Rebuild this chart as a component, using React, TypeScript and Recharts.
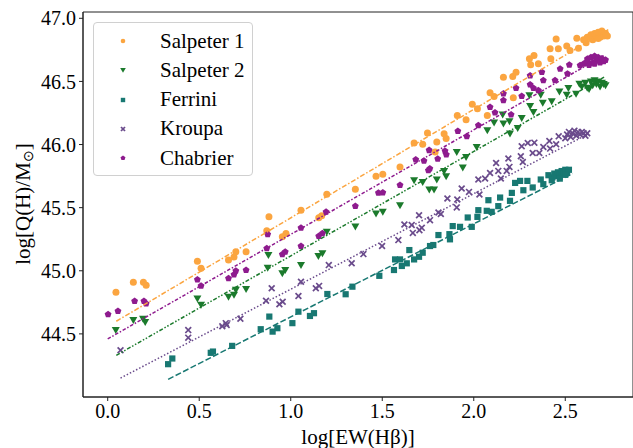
import React from 'react';
import { ScatterChart, Scatter, XAxis, YAxis, ReferenceArea, Label } from 'recharts';

// points, [logEW, logQ]
const SALPETER_1: [number, number][] = [
  [0.045, 44.83], [0.14, 44.91], [0.195, 44.91], [0.21, 44.885], [0.49, 45.075], [0.51, 45.02],
  [0.66, 45.085], [0.69, 45.11], [0.7, 45.15], [0.756, 45.15], [0.869, 45.317], [0.881, 45.427],
  [0.954, 45.27], [0.974, 45.296], [1.056, 45.48], [1.153, 45.42], [1.169, 45.435], [1.197, 45.607],
  [1.353, 45.646], [1.466, 45.749], [1.503, 45.765], [1.597, 45.823], [1.674, 46.012], [1.721, 46.002],
  [1.747, 46.091], [1.789, 45.941], [1.798, 46.02], [1.838, 46.085], [1.849, 46.047], [1.91, 46.231],
  [1.958, 46.197], [1.992, 46.32], [2.02, 46.284], [2.074, 46.23], [2.089, 46.41], [2.111, 46.38],
  [2.162, 46.534], [2.213, 46.54], [2.231, 46.573], [2.216, 46.37], [2.304, 46.679], [2.329, 46.705],
  [2.311, 46.632], [2.353, 46.64], [2.417, 46.759], [2.421, 46.679], [2.45, 46.837], [2.462, 46.759],
  [2.508, 46.78], [2.526, 46.745], [2.563, 46.842], [2.572, 46.763], [2.614, 46.806], [2.62, 46.85],
  [2.64, 46.87], [2.65, 46.83], [2.66, 46.88], [2.67, 46.86], [2.68, 46.89], [2.69, 46.85],
  [2.7, 46.87], [2.71, 46.86], [2.72, 46.88], [2.73, 46.86], [2.68, 46.84], [2.6, 46.83], [2.7, 46.9],
];

const SALPETER_2: [number, number][] = [
  [0.044, 44.53], [0.14, 44.61], [0.193, 44.62], [0.205, 44.595], [0.49, 44.78], [0.51, 44.73],
  [0.66, 44.795], [0.69, 44.81], [0.7, 44.85], [0.756, 44.856], [0.878, 45.124], [0.874, 45.024],
  [0.954, 44.98], [0.97, 45.006], [1.056, 45.045], [1.151, 45.117], [1.173, 45.138], [1.197, 45.309],
  [1.353, 45.35], [1.466, 45.454], [1.503, 45.467], [1.597, 45.52], [1.674, 45.717], [1.721, 45.704],
  [1.757, 45.644], [1.783, 45.644], [1.798, 45.723], [1.838, 45.791], [1.849, 45.749], [1.907, 45.941],
  [1.958, 45.902], [1.94, 45.818], [2.016, 45.98], [2.074, 46.113], [2.111, 46.174], [2.158, 46.237],
  [2.162, 46.166], [2.198, 46.087], [2.195, 46.184], [2.24, 46.131], [2.262, 46.21], [2.304, 46.39],
  [2.308, 46.305], [2.326, 46.257], [2.366, 46.395], [2.377, 46.332], [2.426, 46.342], [2.468, 46.421],
  [2.508, 46.395], [2.517, 46.447], [2.559, 46.403], [2.577, 46.482], [2.59, 46.46], [2.61, 46.49],
  [2.62, 46.45], [2.64, 46.5], [2.65, 46.47], [2.66, 46.51], [2.67, 46.48], [2.68, 46.5],
  [2.69, 46.46], [2.7, 46.49], [2.71, 46.48], [2.72, 46.47], [2.63, 46.44],
];

const FERRINI: [number, number][] = [
  [0.33, 44.26], [0.353, 44.305], [0.563, 44.35], [0.575, 44.36], [0.68, 44.405], [0.836, 44.537],
  [0.883, 44.637], [0.901, 44.518], [0.927, 44.545], [1.009, 44.585], [1.042, 44.676], [1.105, 44.642],
  [1.127, 44.664], [1.2, 44.816], [1.3, 44.814], [1.337, 44.874], [1.484, 44.96], [1.564, 45.006],
  [1.57, 45.09], [1.597, 45.09], [1.607, 45.038], [1.634, 45.059], [1.648, 45.164], [1.674, 45.09],
  [1.701, 45.111], [1.721, 45.143], [1.761, 45.196], [1.779, 45.204], [1.807, 45.283], [1.867, 45.29],
  [1.87, 45.249], [1.885, 45.354], [1.925, 45.348], [1.967, 45.422], [1.989, 45.348], [2.02, 45.427],
  [2.025, 45.48], [2.071, 45.475], [2.08, 45.559], [2.098, 45.467], [2.134, 45.512], [2.144, 45.58],
  [2.198, 45.554], [2.208, 45.617], [2.226, 45.696], [2.253, 45.712], [2.271, 45.638], [2.293, 45.712],
  [2.322, 45.66], [2.366, 45.723], [2.38, 45.686], [2.408, 45.757], [2.426, 45.717], [2.43, 45.74],
  [2.44, 45.77], [2.45, 45.75], [2.46, 45.78], [2.47, 45.76], [2.48, 45.79], [2.49, 45.77],
  [2.5, 45.8], [2.51, 45.78], [2.52, 45.8], [2.47, 45.73], [2.5, 45.76],
];

const KROUPA: [number, number][] = [
  [0.07, 44.37], [0.44, 44.53], [0.44, 44.47], [0.626, 44.56], [0.645, 44.585], [0.65, 44.57],
  [0.725, 44.62], [0.865, 44.763], [0.896, 44.861], [0.938, 44.735], [0.956, 44.755], [1.042, 44.8],
  [1.056, 44.913], [1.137, 44.861], [1.155, 44.88], [1.208, 45.045], [1.333, 45.059], [1.397, 45.132],
  [1.499, 45.196], [1.588, 45.243], [1.621, 45.367], [1.661, 45.362], [1.667, 45.3], [1.701, 45.44],
  [1.703, 45.322], [1.716, 45.34], [1.761, 45.401], [1.807, 45.462], [1.82, 45.45], [1.856, 45.573],
  [1.91, 45.565], [1.907, 45.502], [1.934, 45.652], [1.974, 45.625], [2.031, 45.604], [2.025, 45.723],
  [2.062, 45.731], [2.089, 45.775], [2.122, 45.854], [2.134, 45.791], [2.148, 45.731], [2.18, 45.791],
  [2.195, 45.823], [2.189, 45.889], [2.257, 45.907], [2.268, 45.862], [2.262, 45.986], [2.295, 46.012],
  [2.331, 46.015], [2.322, 45.933], [2.358, 45.933], [2.38, 45.981], [2.413, 46.028], [2.417, 45.968],
  [2.45, 46.002], [2.464, 46.065], [2.5, 46.05], [2.51, 46.08], [2.52, 46.1], [2.53, 46.06],
  [2.54, 46.09], [2.55, 46.11], [2.56, 46.07], [2.57, 46.1], [2.58, 46.08], [2.59, 46.1],
  [2.6, 46.09], [2.61, 46.07], [2.62, 46.09],
];

const CHABRIER: [number, number][] = [
  [0.002, 44.655], [0.056, 44.68], [0.147, 44.76], [0.198, 44.76], [0.21, 44.74], [0.49, 44.93],
  [0.51, 44.88], [0.66, 44.94], [0.69, 44.97], [0.7, 45.0], [0.756, 45.006], [0.874, 45.288],
  [0.869, 45.177], [0.954, 45.13], [0.97, 45.15], [1.056, 45.196], [1.056, 45.34], [1.153, 45.275],
  [1.173, 45.296], [1.193, 45.467], [1.353, 45.512], [1.479, 45.617], [1.503, 45.62], [1.597, 45.678],
  [1.683, 45.88], [1.728, 45.87], [1.756, 45.955], [1.752, 45.796], [1.76, 45.81], [1.803, 45.886],
  [1.843, 45.949], [1.85, 45.92], [1.913, 46.107], [1.962, 46.065], [2.025, 46.152], [2.089, 46.297],
  [2.116, 46.253], [2.162, 46.403], [2.162, 46.35], [2.204, 46.237], [2.231, 46.447], [2.262, 46.384],
  [2.308, 46.474], [2.326, 46.447], [2.353, 46.429], [2.308, 46.547], [2.372, 46.573], [2.38, 46.508],
  [2.444, 46.508], [2.472, 46.6], [2.512, 46.561], [2.522, 46.632], [2.581, 46.627], [2.621, 46.679],
  [2.6, 46.64], [2.62, 46.66], [2.64, 46.69], [2.65, 46.65], [2.66, 46.7], [2.67, 46.67],
  [2.68, 46.69], [2.69, 46.65], [2.7, 46.68], [2.71, 46.66], [2.72, 46.67], [2.63, 46.63], [2.66, 46.64],
];

// fitted lines, end points
const FIT_SALPETER_1: [number, number][] = [[0.047, 44.6], [2.735, 46.91]];
const FIT_SALPETER_2: [number, number][] = [[0.047, 44.33], [2.712, 46.534]];
const FIT_FERRINI: [number, number][] = [[0.33, 44.14], [2.54, 45.77]];
const FIT_KROUPA: [number, number][] = [[0.07, 44.15], [2.62, 46.08]];
const FIT_CHABRIER: [number, number][] = [[0.0, 44.46], [2.717, 46.71]];

const X_TICKS = [0, 0.5, 1, 1.5, 2, 2.5];
const Y_TICKS = [44.5, 45, 45.5, 46, 46.5, 47];
const X_DOMAIN = [-0.135, 2.87];
const Y_DOMAIN = [44.0, 47.05];

const FONT = '"Liberation Serif", "Times New Roman", serif';
const C_SAL1 = '#fba540';
const C_SAL2 = '#1b7a2c';
const C_FER = '#187872';
const C_KRO = '#6a4b8c';
const C_CHA = '#8e1b8e';

const toPts = (arr: [number, number][]) => arr.map(([x, y]) => ({ x, y }));

const Circle = (color: string, r = 3.5) => (p: any) => <circle cx={p.cx} cy={p.cy} r={r} fill={color} />;
const TriDown = (color: string, s = 4) => (p: any) => (
  <polygon points={`${p.cx - s},${p.cy - s * 0.75} ${p.cx + s},${p.cy - s * 0.75} ${p.cx},${p.cy + s}`} fill={color} />
);
const Square = (color: string, s = 3.1) => (p: any) => <rect x={p.cx - s} y={p.cy - s} width={s * 2} height={s * 2} fill={color} />;
const Cross = (color: string, s = 2.9) => (p: any) => (
  <g stroke={color} strokeWidth={1.7}>
    <line x1={p.cx - s} y1={p.cy - s} x2={p.cx + s} y2={p.cy + s} />
    <line x1={p.cx - s} y1={p.cy + s} x2={p.cx + s} y2={p.cy - s} />
  </g>
);
const Pentagon = (color: string, r = 3.6) => (p: any) => {
  const pts = [0, 1, 2, 3, 4]
    .map((i) => {
      const a = -Math.PI / 2 + (i * 2 * Math.PI) / 5;
      return `${p.cx + r * Math.cos(a)},${p.cy + r * Math.sin(a)}`;
    })
    .join(' ');
  return <polygon points={pts} fill={color} />;
};
const NoShape = () => <g />;

const SERIES = [
  { name: 'Salpeter 1', data: SALPETER_1, fit: FIT_SALPETER_1, color: C_SAL1, shape: Circle, dash: '5 2 1.5 2' },
  { name: 'Salpeter 2', data: SALPETER_2, fit: FIT_SALPETER_2, color: C_SAL2, shape: TriDown, dash: '4 1.8 1.5 1.8 1.5 1.8' },
  { name: 'Ferrini', data: FERRINI, fit: FIT_FERRINI, color: C_FER, shape: Square, dash: '6 2.4' },
  { name: 'Kroupa', data: KROUPA, fit: FIT_KROUPA, color: C_KRO, shape: Cross, dash: '1.5 2' },
  { name: 'Chabrier', data: CHABRIER, fit: FIT_CHABRIER, color: C_CHA, shape: Pentagon, dash: '3.5 1.8 1.5 1.8' },
];

const legendIcon = (i: number, color: string) => {
  const p = { cx: 6, cy: 6 };
  if (i === 0) return Circle(color, 2.3)(p);
  if (i === 1) return TriDown(color, 2.8)(p);
  if (i === 2) return Square(color, 2.2)(p);
  if (i === 3) return Cross(color, 2)(p);
  return Pentagon(color, 2.6)(p);
};

const XLabel = () => (
  <text x={358} y={437} textAnchor="middle" dominantBaseline="central" fontFamily={FONT} fontSize={21} fill="#000">
    log[EW(Hβ)]
  </text>
);

const YLabel = () => (
  <text x={23} y={204} transform="rotate(-90 23 204)" textAnchor="middle" dominantBaseline="central"
    fontFamily={FONT} fontSize={21} fill="#000">
    log[Q(H)/M<tspan fontSize={14} dy={5}>⊙</tspan><tspan dy={-5}>]</tspan>
  </text>
);

export default function App() {
  return (
    <div style={{ position: 'absolute', left: 0, top: 0, width: 633, height: 448, background: '#fff' }}>
      <ScatterChart width={633} height={448} margin={{ top: 12, right: 0, bottom: 0, left: 0 }}>
        <XAxis type="number" dataKey="x" domain={X_DOMAIN} ticks={X_TICKS} allowDataOverflow
          tickFormatter={(v: number) => v.toFixed(1)} height={51} tickSize={4} tickMargin={3}
          stroke="#222" tick={{ fill: '#000', fontSize: 20, fontFamily: FONT }}>
          <Label content={XLabel} />
        </XAxis>
        <YAxis type="number" dataKey="y" domain={Y_DOMAIN} ticks={Y_TICKS} allowDataOverflow
          tickFormatter={(v: number) => v.toFixed(1)} width={83} tickSize={4} tickMargin={3}
          stroke="#222" tick={{ fill: '#000', fontSize: 20, fontFamily: FONT }}>
          <Label content={YLabel} />
        </YAxis>
        <ReferenceArea x1={X_DOMAIN[0]} x2={X_DOMAIN[1]} y1={Y_DOMAIN[0]} y2={Y_DOMAIN[1]}
          stroke="#222" strokeWidth={1} fill="none" fillOpacity={0} ifOverflow="visible" />
        {SERIES.map((s) => (
          <Scatter key={s.name} name={s.name} data={toPts(s.data)} shape={s.shape(s.color)} isAnimationActive={false} />
        ))}
        {SERIES.map((s) => (
          <Scatter key={s.name + '-fit'} data={toPts(s.fit)} shape={NoShape} isAnimationActive={false}
            line={{ stroke: s.color, strokeWidth: 1.5, strokeDasharray: s.dash }} lineType="joint" legendType="none" />
        ))}
      </ScatterChart>
      <div style={{
        position: 'absolute', left: 93, top: 22, width: 158, height: 152, border: '1px solid #d0d0d0',
        borderRadius: 4, background: 'rgba(255,255,255,0.85)', fontFamily: FONT, fontSize: 21, color: '#000',
      }}>
        {SERIES.map((s, i) => (
          <div key={s.name} style={{ position: 'absolute', left: 23, top: 4 + i * 29.3, height: 28, display: 'flex', alignItems: 'center' }}>
            <svg width={12} height={12} style={{ marginRight: 31 }}>{legendIcon(i, s.color)}</svg>
            <span>{s.name}</span>
          </div>
        ))}
      </div>
    </div>
  );
}
